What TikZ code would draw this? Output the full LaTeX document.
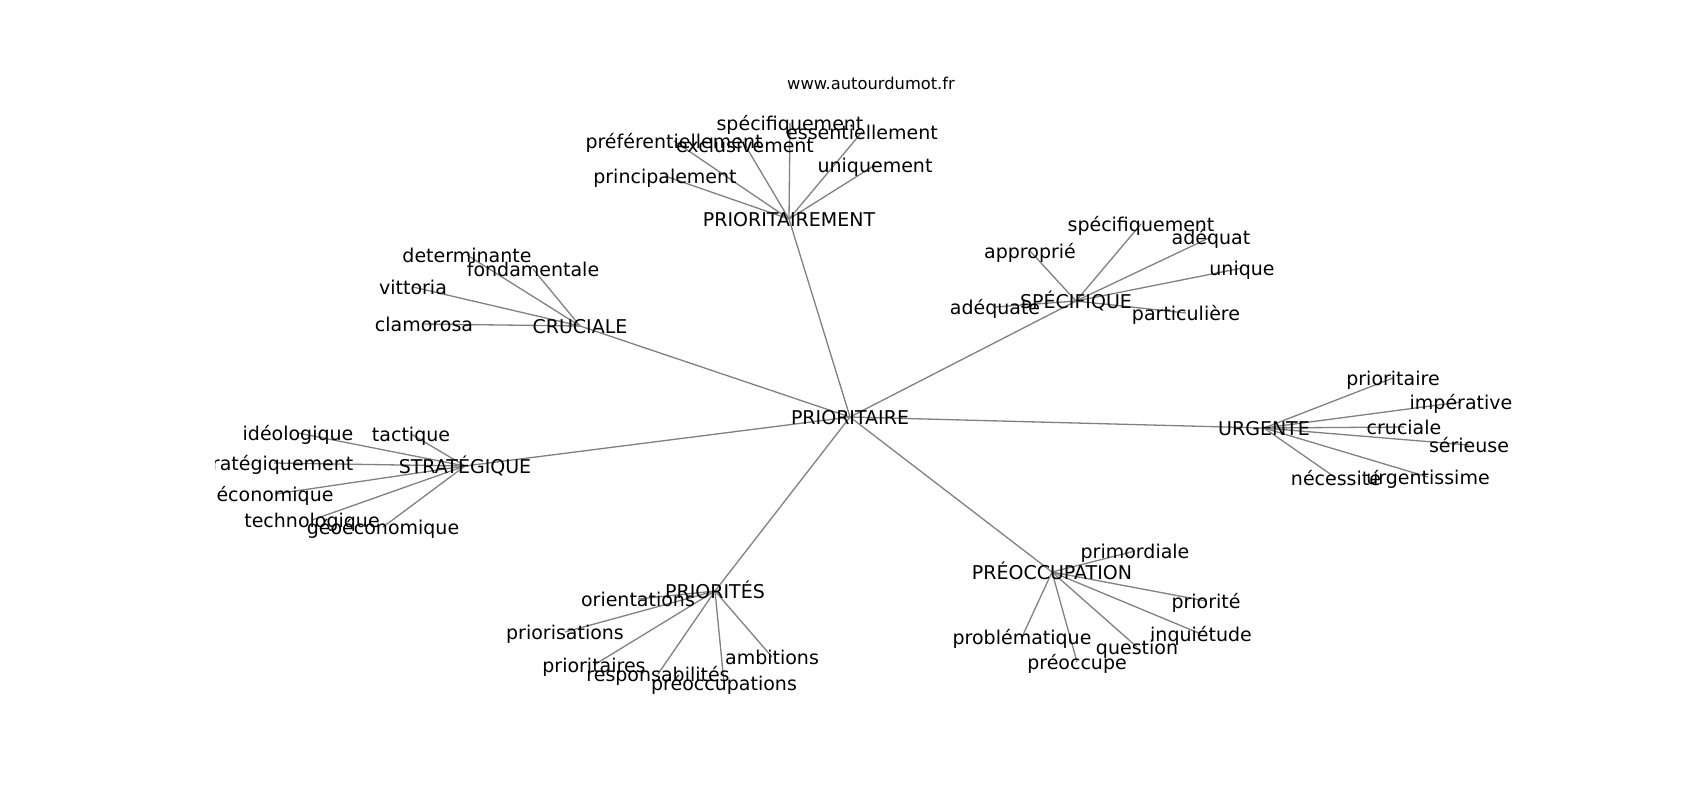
\documentclass[tikz,border=0pt]{standalone}
\usepackage{fontspec}
\setmainfont{DejaVu Sans}
\usetikzlibrary{backgrounds}
\tikzset{
    word/.style={inner sep=0pt, text height=0.89em, text depth=0.11em, font=\fontsize{9.5}{11.4}\selectfont},
    site/.style={inner sep=0pt, text height=0.89em, text depth=0.11em, font=\fontsize{8.15}{9.8}\selectfont},
    link/.style={draw=gray, line width=0.65pt}
}

\begin{document}
\begin{tikzpicture}[x=0.5pt, y=-0.5pt]

            \useasboundingbox (0,0) rectangle (1700,800);

            \node[site] (site) at (871,82) {www.autourdumot.fr};

            \begin{scope}
            \clip (215,96) rectangle (1530,712);

            % centre and hubs
            \node[word] (P) at (850,417) {PRIORITAIRE};
            \node[word] (PM) at (789,219) {PRIORITAIREMENT};
            \node[word] (CR) at (580,326) {CRUCIALE};
            \node[word] (SP) at (1076,301) {SPÉCIFIQUE};
            \node[word] (UR) at (1264,428) {URGENTE};
            \node[word] (ST) at (465,466) {STRATÉGIQUE};
            \node[word] (PS) at (715,591) {PRIORITÉS};
            \node[word] (PO) at (1052,572) {PRÉOCCUPATION};

            % PRIORITAIREMENT
            \node[word] (pmA) at (790,123) {spécifiquement};
            \node[word] (pmB) at (862,132) {essentiellement};
            \node[word] (pmC) at (674,141) {préférentiellement};
            \node[word] (pmD) at (745,145) {exclusivement};
            \node[word] (pmE) at (875,165) {uniquement};
            \node[word] (pmF) at (665,176) {principalement};

            % CRUCIALE
            \node[word] (crA) at (467,255) {determinante};
            \node[word] (crB) at (533,269) {fondamentale};
            \node[word] (crC) at (413,287) {vittoria};
            \node[word] (crD) at (424,324) {clamorosa};

            % SPÉCIFIQUE
            \node[word] (spA) at (1141,224) {spécifiquement};
            \node[word] (spB) at (1211,237) {adéquat};
            \node[word] (spC) at (1030,251) {approprié};
            \node[word] (spD) at (1242,268) {unique};
            \node[word] (spE) at (995,307) {adéquate};
            \node[word] (spF) at (1186,313) {particulière};

            % URGENTE
            \node[word] (urA) at (1393,378) {prioritaire};
            \node[word] (urB) at (1461,402) {impérative};
            \node[word] (urC) at (1404,427) {cruciale};
            \node[word] (urD) at (1469,445) {sérieuse};
            \node[word] (urE) at (1336,478) {nécessité};
            \node[word] (urF) at (1428,477) {urgentissime};

            % STRATÉGIQUE
            \node[word] (stA) at (298,433) {idéologique};
            \node[word] (stB) at (411,434) {tactique};
            \node[word] (stC) at (274,463) {stratégiquement};
            \node[word] (stD) at (275,494) {économique};
            \node[word] (stE) at (312,520) {technologique};
            \node[word] (stF) at (383,527) {géoéconomique};

            % PRIORITÉS
            \node[word] (psA) at (638,599) {orientations};
            \node[word] (psB) at (565,632) {priorisations};
            \node[word] (psC) at (594,665) {prioritaires};
            \node[word] (psD) at (658,674) {responsabilités};
            \node[word] (psE) at (724,683) {préoccupations};
            \node[word] (psF) at (772,657) {ambitions};

            % PRÉOCCUPATION
            \node[word] (poA) at (1135,551) {primordiale};
            \node[word] (poB) at (1206,601) {priorité};
            \node[word] (poC) at (1201,634) {inquiétude};
            \node[word] (poD) at (1022,637) {problématique};
            \node[word] (poE) at (1137,647) {question};
            \node[word] (poF) at (1077,662) {préoccupe};
            \end{scope}

            \begin{scope}[on background layer]
            \draw[link] (P.center) -- (PM.center);
            \draw[link] (P.center) -- (CR.center);
            \draw[link] (P.center) -- (SP.center);
            \draw[link] (P.center) -- (UR.center);
            \draw[link] (P.center) -- (ST.center);
            \draw[link] (P.center) -- (PS.center);
            \draw[link] (P.center) -- (PO.center);

            \draw[link] (PM.center) -- (pmA.center);
            \draw[link] (PM.center) -- (pmB.center);
            \draw[link] (PM.center) -- (pmC.center);
            \draw[link] (PM.center) -- (pmD.center);
            \draw[link] (PM.center) -- (pmE.center);
            \draw[link] (PM.center) -- (pmF.center);

            \draw[link] (CR.center) -- (crA.center);
            \draw[link] (CR.center) -- (crB.center);
            \draw[link] (CR.center) -- (crC.center);
            \draw[link] (CR.center) -- (crD.center);

            \draw[link] (SP.center) -- (spA.center);
            \draw[link] (SP.center) -- (spB.center);
            \draw[link] (SP.center) -- (spC.center);
            \draw[link] (SP.center) -- (spD.center);
            \draw[link] (SP.center) -- (spE.center);
            \draw[link] (SP.center) -- (spF.center);

            \draw[link] (UR.center) -- (urA.center);
            \draw[link] (UR.center) -- (urB.center);
            \draw[link] (UR.center) -- (urC.center);
            \draw[link] (UR.center) -- (urD.center);
            \draw[link] (UR.center) -- (urE.center);
            \draw[link] (UR.center) -- (urF.center);

            \draw[link] (ST.center) -- (stA.center);
            \draw[link] (ST.center) -- (stB.center);
            \draw[link] (ST.center) -- (stC.center);
            \draw[link] (ST.center) -- (stD.center);
            \draw[link] (ST.center) -- (stE.center);
            \draw[link] (ST.center) -- (stF.center);

            \draw[link] (PS.center) -- (psA.center);
            \draw[link] (PS.center) -- (psB.center);
            \draw[link] (PS.center) -- (psC.center);
            \draw[link] (PS.center) -- (psD.center);
            \draw[link] (PS.center) -- (psE.center);
            \draw[link] (PS.center) -- (psF.center);

            \draw[link] (PO.center) -- (poA.center);
            \draw[link] (PO.center) -- (poB.center);
            \draw[link] (PO.center) -- (poC.center);
            \draw[link] (PO.center) -- (poD.center);
            \draw[link] (PO.center) -- (poE.center);
            \draw[link] (PO.center) -- (poF.center);
            \end{scope}

        \end{tikzpicture}
\end{document}
